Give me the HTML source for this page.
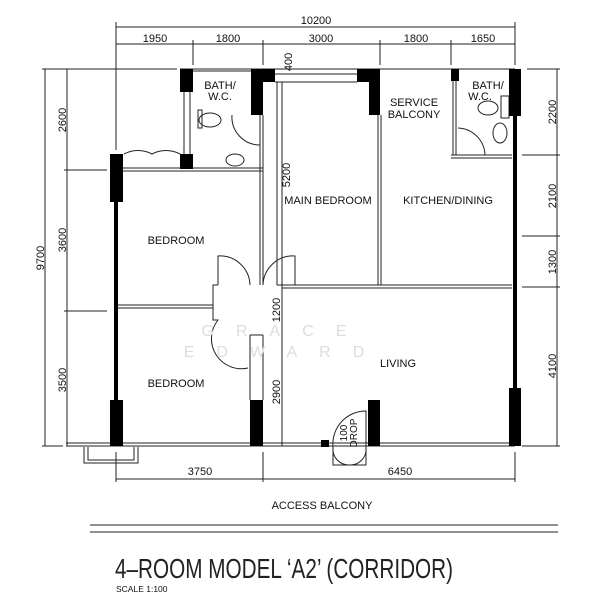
<!DOCTYPE html><html><head><style>body{margin:0;background:#fff}svg{display:block}text{font-family:"Liberation Sans",sans-serif;fill:#111}</style></head><body>
<svg width="600" height="600" viewBox="0 0 600 600" xmlns="http://www.w3.org/2000/svg">
<g stroke="#222" stroke-width="1" fill="none">
<line x1="116" y1="27" x2="515" y2="27"/><line x1="116" y1="44" x2="515" y2="44"/>
<line x1="116" y1="22" x2="116" y2="150"/><line x1="515" y1="22" x2="515" y2="65"/>
<line x1="193" y1="40" x2="193" y2="65"/><line x1="263" y1="40" x2="263" y2="65"/><line x1="380" y1="40" x2="380" y2="65"/><line x1="451" y1="40" x2="451" y2="65"/>
<line x1="45" y1="69" x2="45" y2="446"/><line x1="67" y1="69" x2="67" y2="446"/>
<line x1="42" y1="69" x2="177" y2="69"/><line x1="64" y1="170" x2="107" y2="170"/><line x1="64" y1="311" x2="107" y2="311"/><line x1="42" y1="446" x2="63" y2="446"/>
<line x1="557" y1="69" x2="557" y2="446"/>
<line x1="527" y1="69" x2="560" y2="69"/><line x1="522" y1="155" x2="560" y2="155"/><line x1="522" y1="236" x2="560" y2="236"/><line x1="522" y1="287" x2="560" y2="287"/><line x1="522" y1="446" x2="560" y2="446"/>
<line x1="116" y1="479" x2="515" y2="479"/><line x1="116" y1="452" x2="116" y2="482"/><line x1="263" y1="452" x2="263" y2="482"/><line x1="515" y1="452" x2="515" y2="482"/>
<line x1="282" y1="82" x2="282" y2="446"/>
<line x1="180" y1="69" x2="515" y2="69"/><line x1="275" y1="74" x2="357" y2="74"/><line x1="275" y1="82" x2="357" y2="82"/>
<line x1="193" y1="71" x2="251" y2="71"/>
<line x1="123" y1="168" x2="263" y2="168"/><line x1="123" y1="171" x2="263" y2="171"/>
<line x1="184" y1="92" x2="184" y2="154"/><line x1="190" y1="92" x2="190" y2="154"/>
<line x1="260" y1="115" x2="260" y2="285"/><line x1="263" y1="115" x2="263" y2="285"/>
<line x1="277" y1="82" x2="277" y2="285"/>
<line x1="378" y1="115" x2="378" y2="285"/><line x1="381" y1="115" x2="381" y2="285"/>
<line x1="277" y1="285" x2="512" y2="285"/><line x1="282" y1="288" x2="512" y2="288"/>
<line x1="116" y1="305" x2="213" y2="305"/><line x1="116" y1="308" x2="213" y2="308"/>
<line x1="451" y1="155" x2="512" y2="155"/><line x1="451" y1="158" x2="512" y2="158"/>
<line x1="453" y1="80" x2="453" y2="155"/><line x1="456" y1="80" x2="456" y2="155"/>
<line x1="66" y1="443" x2="515" y2="443"/><line x1="66" y1="446" x2="515" y2="446"/>
<line x1="250" y1="335" x2="250" y2="400"/><line x1="263" y1="335" x2="263" y2="400"/><line x1="250" y1="335" x2="263" y2="335"/>
<path d="M124 154 A30 30 0 0 1 152 154 M180 154 A30 30 0 0 0 152 154"/>
<path d="M232 115 A28 28 0 0 0 260 145"/>
<path d="M250 285 A30 30 0 0 0 218 256 L218 285"/><path d="M263 285 A30 30 0 0 1 295 256 L295 285"/>
<path d="M218 285 L213 285 L213 320 L218 320 A30 30 0 0 0 248 368"/>
<path d="M458 128 A28 28 0 0 1 485 155"/>
<path d="M366 447 L366 411 A33 33 0 0 0 333 447 L333 465 L366 465 L366 447 M349 465 A16 16 0 0 1 333 447 M349 465 A16 16 0 0 0 366 447"/>
<path d="M84 447 L84 463 L138 463 L138 447 M88 447 L88 460 L134 460 L134 447"/>
<ellipse cx="210" cy="120" rx="11" ry="7"/><rect x="198" y="110" width="4" height="18"/>
<ellipse cx="235" cy="160" rx="9" ry="6"/>
<ellipse cx="488" cy="108" rx="10" ry="7"/><rect x="501" y="96" width="8" height="22"/>
<ellipse cx="500" cy="133" rx="7" ry="10"/>
<line x1="90" y1="525" x2="558" y2="525"/><line x1="90" y1="532" x2="558" y2="532"/>
</g>
<g fill="#000">
<rect x="114" y="155" width="4" height="290"/><rect x="513" y="69" width="4" height="377"/>
<rect x="110" y="154" width="13" height="48"/><rect x="110" y="400" width="13" height="46"/>
<rect x="250" y="400" width="13" height="46"/><rect x="368" y="400" width="12" height="46"/>
<rect x="509" y="69" width="12" height="47"/><rect x="509" y="388" width="12" height="58"/>
<rect x="180" y="69" width="13" height="23"/><rect x="180" y="154" width="13" height="15"/>
<rect x="251" y="69" width="24" height="13"/><rect x="251" y="69" width="12" height="46"/>
<rect x="357" y="69" width="23" height="13"/><rect x="369" y="69" width="11" height="46"/>
<rect x="451" y="69" width="8" height="12"/><rect x="321" y="440" width="8" height="7"/>
</g>
<g font-size="11" text-anchor="middle">
<text x="316" y="24">10200</text>
<text x="155" y="42">1950</text><text x="228" y="42">1800</text><text x="321" y="42">3000</text><text x="416" y="42">1800</text><text x="483" y="42">1650</text>
<text x="200" y="475">3750</text><text x="400" y="475">6450</text>
<text transform="translate(44,258) rotate(-90)">9700</text>
<text transform="translate(66,120) rotate(-90)">2600</text>
<text transform="translate(66,240) rotate(-90)">3600</text>
<text transform="translate(66,380) rotate(-90)">3500</text>
<text transform="translate(556,112) rotate(-90)">2200</text>
<text transform="translate(556,196) rotate(-90)">2100</text>
<text transform="translate(556,262) rotate(-90)">1300</text>
<text transform="translate(556,366) rotate(-90)">4100</text>
<text transform="translate(292,62) rotate(-90)">400</text>
<text transform="translate(290,175) rotate(-90)">5200</text>
<text transform="translate(280,310) rotate(-90)">1200</text>
<text transform="translate(280,392) rotate(-90)">2900</text>
<text transform="translate(347,433) rotate(-90)" font-size="10">100</text>
<text transform="translate(357,433) rotate(-90)" font-size="10">DROP</text>
<text x="220" y="89">BATH/</text><text x="220" y="100">W.C.</text>
<text x="414" y="106">SERVICE</text><text x="414" y="118">BALCONY</text>
<text x="488" y="89">BATH/</text><text x="480" y="100">W.C.</text>
<text x="328" y="204">MAIN BEDROOM</text><text x="448" y="204">KITCHEN/DINING</text>
<text x="176" y="244">BEDROOM</text><text x="176" y="387">BEDROOM</text>
<text x="398" y="367">LIVING</text>
<text x="322" y="509">ACCESS BALCONY</text>
</g>
<g font-size="16" text-anchor="middle">
<text x="285" y="336" letter-spacing="22" style="fill:#ddd">GRACE</text>
<text x="285" y="357" letter-spacing="22" style="fill:#ddd">EDWARD</text>
</g>
<text x="0" y="0" font-size="28" transform="translate(115,578) scale(0.74,1)" style="fill:#222">4–ROOM MODEL ‘A2’ (CORRIDOR)</text>
<text x="116" y="592" font-size="8.5">SCALE   1:100</text>
</svg></body></html>
